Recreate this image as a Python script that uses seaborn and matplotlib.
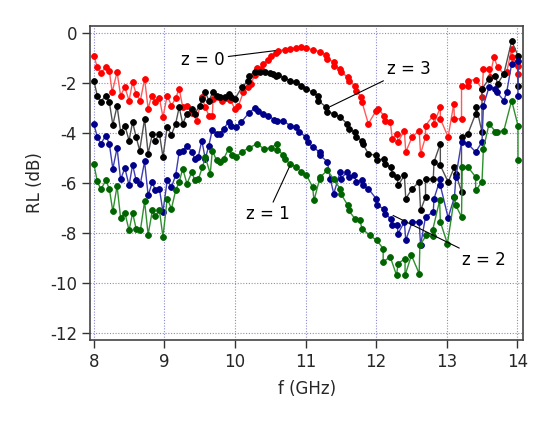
import numpy as np
import pandas as pd
import matplotlib
matplotlib.use("Agg")
import matplotlib.pyplot as plt
import seaborn as sns

# ---- data ----
red_f = [8.00, 8.05, 8.10, 8.17, 8.22, 8.26, 8.33, 8.38, 8.44, 8.50, 8.55, 8.60, 8.66, 8.72, 8.77, 8.82, 8.87, 8.93, 8.98,
         9.04, 9.10, 9.16, 9.21, 9.26, 9.32, 9.39, 9.46, 9.53, 9.58, 9.63, 9.68, 9.69, 9.76, 9.81, 9.87, 9.93, 10.00, 10.05,
         10.12, 10.19, 10.23, 10.28, 10.31, 10.37, 10.40, 10.47, 10.51, 10.58, 10.61, 10.71, 10.78, 10.87, 10.94, 11.01,
         11.10, 11.20, 11.29, 11.31, 11.40, 11.40, 11.49, 11.50, 11.60, 11.61, 11.70, 11.72, 11.79, 11.80, 11.89, 12.00,
         12.03, 12.11, 12.12, 12.20, 12.23, 12.30, 12.31, 12.40, 12.42, 12.51, 12.61, 12.63, 12.70, 12.70, 12.81, 12.82,
         12.91, 12.91, 13.02, 13.10, 13.11, 13.21, 13.21, 13.30, 13.30, 13.41, 13.50, 13.50, 13.52, 13.60, 13.61, 13.67,
         13.72, 13.81, 13.85, 13.92, 13.93, 14.01, 14.01]
red_rl = [-0.91, -1.37, -1.61, -1.37, -1.51, -2.37, -1.57, -2.51, -2.17, -2.71, -1.97, -2.44, -2.71, -1.84, -3.04, -2.51, -2.75, -2.61, -3.37,
          -2.51, -2.91, -2.61, -2.24, -2.97, -2.91, -3.20, -3.51, -2.57, -2.97, -3.31, -3.31, -2.64, -2.57, -2.71, -2.61, -2.67, -3.04, -2.91,
          -2.37, -2.17, -2.04, -1.68, -1.41, -1.44, -1.24, -1.07, -0.91, -0.80, -0.71, -0.67, -0.64, -0.61, -0.57, -0.61,
          -0.67, -0.75, -0.88, -1.04, -1.17, -1.31, -1.44, -1.57, -1.77, -1.91, -2.11, -2.31, -2.57, -2.77, -3.64, -3.11,
          -3.04, -3.31, -3.51, -3.57, -4.24, -4.04, -4.37, -3.91, -4.77, -4.17, -3.91, -4.84, -4.17, -3.71, -3.31, -3.64,
          -2.97, -3.44, -4.17, -2.84, -3.44, -3.44, -2.11, -2.11, -1.91, -1.87, -2.24, -2.57, -1.44, -1.44, -1.77, -0.97,
          -1.37, -1.64, -1.57, -0.64, -0.97, -1.31, -1.64]

black_f = [8.00, 8.05, 8.10, 8.17, 8.22, 8.27, 8.33, 8.38, 8.44, 8.50, 8.55, 8.60, 8.65, 8.72, 8.77, 8.83, 8.87, 8.93, 8.98,
           9.04, 9.10, 9.16, 9.21, 9.26, 9.32, 9.39, 9.43, 9.50, 9.54, 9.58, 9.63, 9.69, 9.74, 9.79, 9.86, 9.91, 9.95, 10.00,
           10.10, 10.19, 10.20, 10.28, 10.35, 10.42, 10.49, 10.54, 10.58, 10.61, 10.70, 10.78, 10.87, 10.94, 11.01, 11.10,
           11.17, 11.18, 11.29, 11.31, 11.40, 11.49, 11.59, 11.61, 11.70, 11.72, 11.80, 11.81, 11.89, 12.00, 12.01, 12.11,
           12.12, 12.21, 12.23, 12.30, 12.31, 12.40, 12.42, 12.51, 12.61, 12.63, 12.70, 12.70, 12.81, 12.82, 12.91, 12.91,
           13.02, 13.11, 13.13, 13.21, 13.21, 13.30, 13.41, 13.42, 13.50, 13.50, 13.60, 13.69, 13.72, 13.81, 13.92, 14.01, 14.01]
black_rl = [-1.91, -2.51, -2.75, -2.51, -2.77, -3.68, -2.93, -3.95, -3.71, -4.31, -3.57, -4.17, -4.71, -3.44, -4.84, -4.04, -4.31, -4.04, -4.97,
            -3.77, -4.08, -3.64, -2.97, -3.64, -3.24, -3.04, -3.24, -2.91, -2.64, -2.37, -2.71, -2.37, -2.51, -2.57, -2.57, -2.44, -2.57, -2.64,
            -2.17, -1.91, -1.71, -1.57, -1.57, -1.57, -1.60, -1.64, -1.71, -1.68, -1.81, -1.91, -1.97, -2.11, -2.24, -2.37,
            -2.51, -2.71, -2.97, -3.15, -3.24, -3.37, -3.64, -3.84, -3.97, -4.17, -4.31, -4.44, -4.84, -4.91, -5.11, -5.04,
            -5.24, -5.37, -5.64, -5.77, -6.11, -5.71, -6.64, -6.24, -5.97, -7.11, -6.57, -5.84, -5.84, -5.17, -4.44, -5.31,
            -5.97, -5.37, -5.64, -6.37, -4.17, -4.04, -3.24, -2.97, -3.97, -2.24, -1.84, -1.71, -2.04, -1.64, -0.33, -0.91, -2.11]

blue_f = [8.00, 8.05, 8.10, 8.17, 8.22, 8.27, 8.33, 8.38, 8.44, 8.50, 8.55, 8.60, 8.66, 8.72, 8.77, 8.83, 8.87, 8.93, 8.98,
          9.04, 9.10, 9.16, 9.21, 9.26, 9.32, 9.39, 9.43, 9.48, 9.53, 9.58, 9.63, 9.68, 9.74, 9.79, 9.84, 9.91, 9.95, 10.02,
          10.09, 10.20, 10.28, 10.32, 10.40, 10.47, 10.56, 10.60, 10.68, 10.78, 10.87, 10.91, 11.01, 11.03, 11.10, 11.20,
          11.21, 11.31, 11.35, 11.40, 11.49, 11.50, 11.59, 11.61, 11.69, 11.72, 11.80, 11.81, 11.89, 12.00, 12.01, 12.11,
          12.12, 12.21, 12.23, 12.30, 12.31, 12.40, 12.42, 12.51, 12.61, 12.63, 12.70, 12.81, 12.82, 12.91, 12.91, 13.02,
          13.11, 13.13, 13.21, 13.30, 13.41, 13.50, 13.52, 13.60, 13.69, 13.71, 13.81, 13.85, 13.92, 14.01, 14.01]
blue_rl = [-3.64, -4.17, -4.44, -4.11, -4.44, -5.44, -4.61, -5.87, -5.41, -6.11, -5.28, -5.91, -6.04, -5.15, -6.51, -5.97, -6.31, -6.24, -7.17,
           -5.91, -6.17, -5.71, -4.77, -4.71, -4.51, -4.77, -5.04, -4.97, -4.31, -5.04, -4.51, -3.87, -4.04, -4.04, -3.84, -3.57, -3.71, -3.77,
           -3.57, -3.20, -3.01, -3.11, -3.24, -3.33, -3.47, -3.51, -3.51, -3.71, -3.77, -3.97, -4.17, -4.37, -4.57, -4.77,
           -4.91, -5.17, -5.84, -6.44, -5.57, -5.84, -5.57, -5.77, -5.71, -5.97, -5.91, -6.11, -6.24, -6.64, -6.91, -7.04,
           -7.24, -7.44, -7.71, -7.71, -8.04, -7.57, -8.31, -7.57, -7.57, -8.50, -7.37, -7.17, -6.64, -5.84, -6.11, -7.40,
           -6.57, -5.77, -4.37, -4.44, -4.77, -4.37, -2.91, -2.17, -2.24, -2.37, -2.71, -2.37, -1.24, -1.11, -2.51]

green_f = [8.00, 8.05, 8.10, 8.17, 8.22, 8.27, 8.33, 8.38, 8.44, 8.50, 8.55, 8.60, 8.66, 8.72, 8.77, 8.83, 8.87, 8.93, 8.98,
           9.04, 9.10, 9.16, 9.21, 9.26, 9.32, 9.39, 9.43, 9.48, 9.54, 9.58, 9.65, 9.68, 9.74, 9.79, 9.84, 9.91, 9.96, 10.02,
           10.10, 10.20, 10.31, 10.41, 10.51, 10.59, 10.60, 10.68, 10.71, 10.78, 10.87, 10.94, 11.01, 11.10, 11.12, 11.20,
           11.21, 11.31, 11.40, 11.49, 11.50, 11.60, 11.61, 11.70, 11.77, 11.80, 11.91, 12.01, 12.10, 12.10, 12.20, 12.29,
           12.31, 12.41, 12.41, 12.50, 12.61, 12.62, 12.71, 12.80, 12.80, 12.90, 12.91, 13.01, 13.11, 13.13, 13.21, 13.22,
           13.30, 13.41, 13.41, 13.50, 13.52, 13.60, 13.69, 13.71, 13.81, 13.92, 14.01, 14.01]
green_rl = [-5.24, -5.95, -6.27, -5.91, -6.24, -7.15, -6.13, -7.41, -7.20, -7.91, -7.21, -7.84, -7.91, -6.75, -8.08, -7.11, -7.33, -7.11, -8.17,
            -6.64, -7.04, -6.31, -5.97, -5.44, -6.04, -5.57, -5.91, -5.87, -5.37, -4.97, -5.64, -4.71, -5.11, -5.17, -5.04, -4.64, -4.91, -4.97,
            -4.75, -4.61, -4.44, -4.64, -4.61, -4.44, -4.67, -4.88, -5.07, -5.24, -5.37, -5.57, -5.68, -6.17, -6.71, -5.84,
            -5.77, -5.50, -5.87, -6.24, -6.44, -6.91, -7.11, -7.44, -7.51, -7.84, -8.11, -8.31, -8.64, -9.17, -8.97, -9.71,
            -9.24, -9.04, -9.71, -8.91, -9.64, -8.51, -8.11, -8.15, -7.91, -6.71, -7.57, -8.44, -6.57, -6.91, -7.37, -5.37,
            -5.37, -5.77, -6.31, -5.97, -4.64, -3.64, -3.95, -3.97, -3.91, -2.71, -3.71, -5.11]

x_ticks = [8, 9, 10, 11, 12, 13, 14]
y_ticks = [-12, -10, -8, -6, -4, -2, 0]

series = [
    ("z = 0", red_f, red_rl, "#ff0000", "#ff5a5a"),
    ("z = 3", black_f, black_rl, "#000000", "#505050"),
    ("z = 2", blue_f, blue_rl, "#00008b", "#3c3cb4"),
    ("z = 1", green_f, green_rl, "#006400", "#2f8f2f"),
]

sns.set_style("white")
plt.rcParams['font.family'] = ['DejaVu Sans']

fig = plt.figure(figsize=(5.47, 4.25), dpi=100)
ax = fig.add_axes([0.165, 0.2, 0.791, 0.739])

for name, f, rl, mc, lc in series:
    df = pd.DataFrame({"f": f, "RL": rl})
    sns.lineplot(data=df, x="f", y="RL", ax=ax, sort=False, estimator=None,
                 color=lc, linewidth=1.0, marker="o", markersize=4.2,
                 markerfacecolor=mc, markeredgecolor=mc, markeredgewidth=0.6)

ax.set_xlim(7.95, 14.08)
ax.set_ylim(-12.3, 0.28)
ax.set_xticks(x_ticks)
ax.set_yticks(y_ticks)
ax.set_xticklabels([str(t) for t in x_ticks])
ax.set_yticklabels([str(t) for t in y_ticks])
ax.grid(True, linestyle=(0, (1, 1.5)), color="#8a8ad0", linewidth=0.8)
ax.tick_params(axis="both", direction="out", length=6, width=1.0, labelsize=12,
               bottom=True, left=True, top=False, right=False, color="#333333")
for s in ax.spines.values():
    s.set_color("#444444")
    s.set_linewidth(1.2)
ax.set_xlabel("f (GHz)", fontsize=12, labelpad=6)
ax.set_ylabel("RL (dB)", fontsize=12, labelpad=4)

ann_kw = dict(fontsize=12, ha="center", va="center", color="black",
              arrowprops=dict(arrowstyle="-", color="black", linewidth=0.8, shrinkA=0, shrinkB=0))
ax.annotate("z = 0", xy=(10.57, -0.71), xytext=(9.55, -1.07), **ann_kw)
ax.annotate("z = 3", xy=(11.35, -2.95), xytext=(12.46, -1.43), **ann_kw)
ax.annotate("z = 1", xy=(10.78, -5.31), xytext=(10.46, -7.27), **ann_kw)
ax.annotate("z = 2", xy=(12.24, -7.31), xytext=(13.53, -9.11), **ann_kw)

fig.savefig("out.png", dpi=100)
